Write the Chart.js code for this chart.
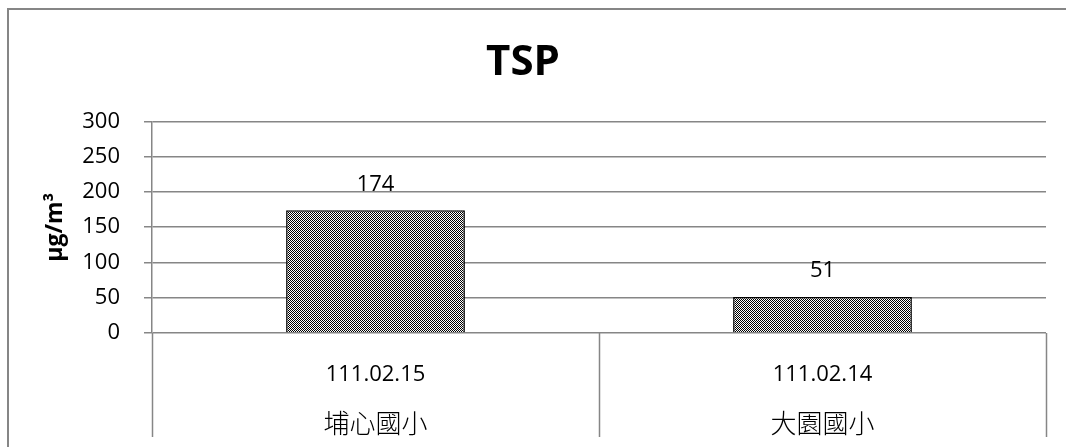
<!DOCTYPE html>
<html>
<head>
<meta charset="utf-8">
<script src="https://cdn.jsdelivr.net/npm/chart.js@4.4.1/dist/chart.umd.min.js"></script>
<style>
    html, body { margin: 0; padding: 0; background: #fff; }
    #wrap { width: 1066px; height: 447px; position: relative; }
</style>
</head>
<body>
<div id="wrap"><canvas id="tspChart" width="1066" height="447"></canvas></div>
<script>
const dates = ['111.02.15', '111.02.14'];
const schools = ['埔心國小', '大園國小'];
const tspValues = [174, 51];
const yTicks = [0, 50, 100, 150, 200, 250, 300];

const gridGray = '#868686';
const numFont = "'Open Sans', 'Liberation Sans', sans-serif";
const cjkFont = "'Noto Sans CJK TC', 'Noto Sans CJK SC', sans-serif";

// checker fill like the excel pattern
function makeChecker() {
    const c = document.createElement('canvas');
    c.width = 2;
    c.height = 2;
    const g = c.getContext('2d');
    g.fillStyle = '#fff';
    g.fillRect(0, 0, 2, 2);
    g.fillStyle = '#000';
    g.fillRect(0, 0, 1, 1);
    g.fillRect(1, 1, 1, 1);
    return g.createPattern(c, 'repeat');
}

const frame = {
    id: 'frame',
    beforeDraw(chart) {
        const ctx = chart.ctx;
        ctx.save();
        ctx.strokeStyle = gridGray;
        ctx.lineWidth = 2;
        ctx.beginPath();
        ctx.moveTo(8, 447);
        ctx.lineTo(8, 9);
        ctx.lineTo(1066, 9);
        ctx.stroke();
        ctx.restore();
    },
    afterDraw(chart) {
        // category separators below the plot, like excel's multi-level axis
        const ctx = chart.ctx;
        const xs = chart.scales.x;
        const half = (xs.getPixelForValue(1) - xs.getPixelForValue(0)) / 2;
        ctx.save();
        ctx.strokeStyle = gridGray;
        ctx.lineWidth = 1.5;
        for (let i = 0; i <= dates.length; i++) {
            const x = Math.round(xs.getPixelForValue(i) - half) + 0.5;
            ctx.beginPath();
            ctx.moveTo(x, chart.chartArea.bottom);
            ctx.lineTo(x, 437);
            ctx.stroke();
        }
        ctx.restore();
    }
};

const valueLabels = {
    id: 'valueLabels',
    afterDatasetsDraw(chart) {
        const ctx = chart.ctx;
        ctx.save();
        ctx.font = '22px ' + numFont;
        ctx.fillStyle = '#000';
        ctx.textAlign = 'center';
        ctx.textBaseline = 'middle';
        chart.getDatasetMeta(0).data.forEach((bar, i) => {
            ctx.fillText(String(tspValues[i]), bar.x, bar.y - 26);
        });
        ctx.restore();
    }
};

const ctx = document.getElementById('tspChart').getContext('2d');
new Chart(ctx, {
    type: 'bar',
    data: {
        labels: dates,
        datasets: [{
            label: 'TSP',
            data: tspValues,
            backgroundColor: makeChecker(),
            borderColor: '#000',
            borderWidth: 1.5,
            barPercentage: 0.4,
            categoryPercentage: 1
        }]
    },
    options: {
        responsive: false,
        animation: false,
        layout: { padding: { top: 0, right: 20, bottom: 0, left: 0 } },
        plugins: {
            legend: { display: false },
            tooltip: { enabled: false },
            title: {
                display: true,
                text: 'TSP',
                color: '#000',
                font: { family: numFont, size: 42, weight: 'bold', lineHeight: 1.2 },
                padding: { top: 38, bottom: 33 }
            }
        },
        scales: {
            x: {
                position: 'bottom',
                grid: { display: false },
                border: { display: false },
                ticks: {
                    color: '#000',
                    font: { family: numFont, size: 22, lineHeight: 1.2 },
                    padding: 21,
                    maxRotation: 0
                },
                afterFit: scale => { scale.height = 60; }
            },
            x2: {
                type: 'category',
                position: 'bottom',
                labels: schools,
                offset: true,
                grid: { display: false },
                border: { display: false },
                ticks: {
                    color: '#000',
                    font: { family: cjkFont, size: 26, weight: 300, lineHeight: 1.2 },
                    padding: 7,
                    maxRotation: 0
                },
                afterFit: scale => { scale.height = 54; }
            },
            y: {
                min: 0,
                max: 300,
                afterBuildTicks: scale => {
                    scale.ticks = yTicks.map(v => ({ value: v }));
                },
                grid: {
                    color: gridGray,
                    lineWidth: 1.5,
                    tickLength: 8
                },
                border: { color: gridGray, width: 1.5 },
                ticks: {
                    color: '#000',
                    font: { family: numFont, size: 22 },
                    padding: 24
                },
                title: {
                    display: true,
                    text: 'μg/m³',
                    color: '#000',
                    font: { family: numFont, size: 23, weight: 'bold', lineHeight: 1.2 },
                    padding: { top: 42, bottom: 0 }
                },
                afterFit: scale => { scale.width = 152; }
            }
        }
    },
    plugins: [frame, valueLabels]
});
</script>
</body>
</html>
